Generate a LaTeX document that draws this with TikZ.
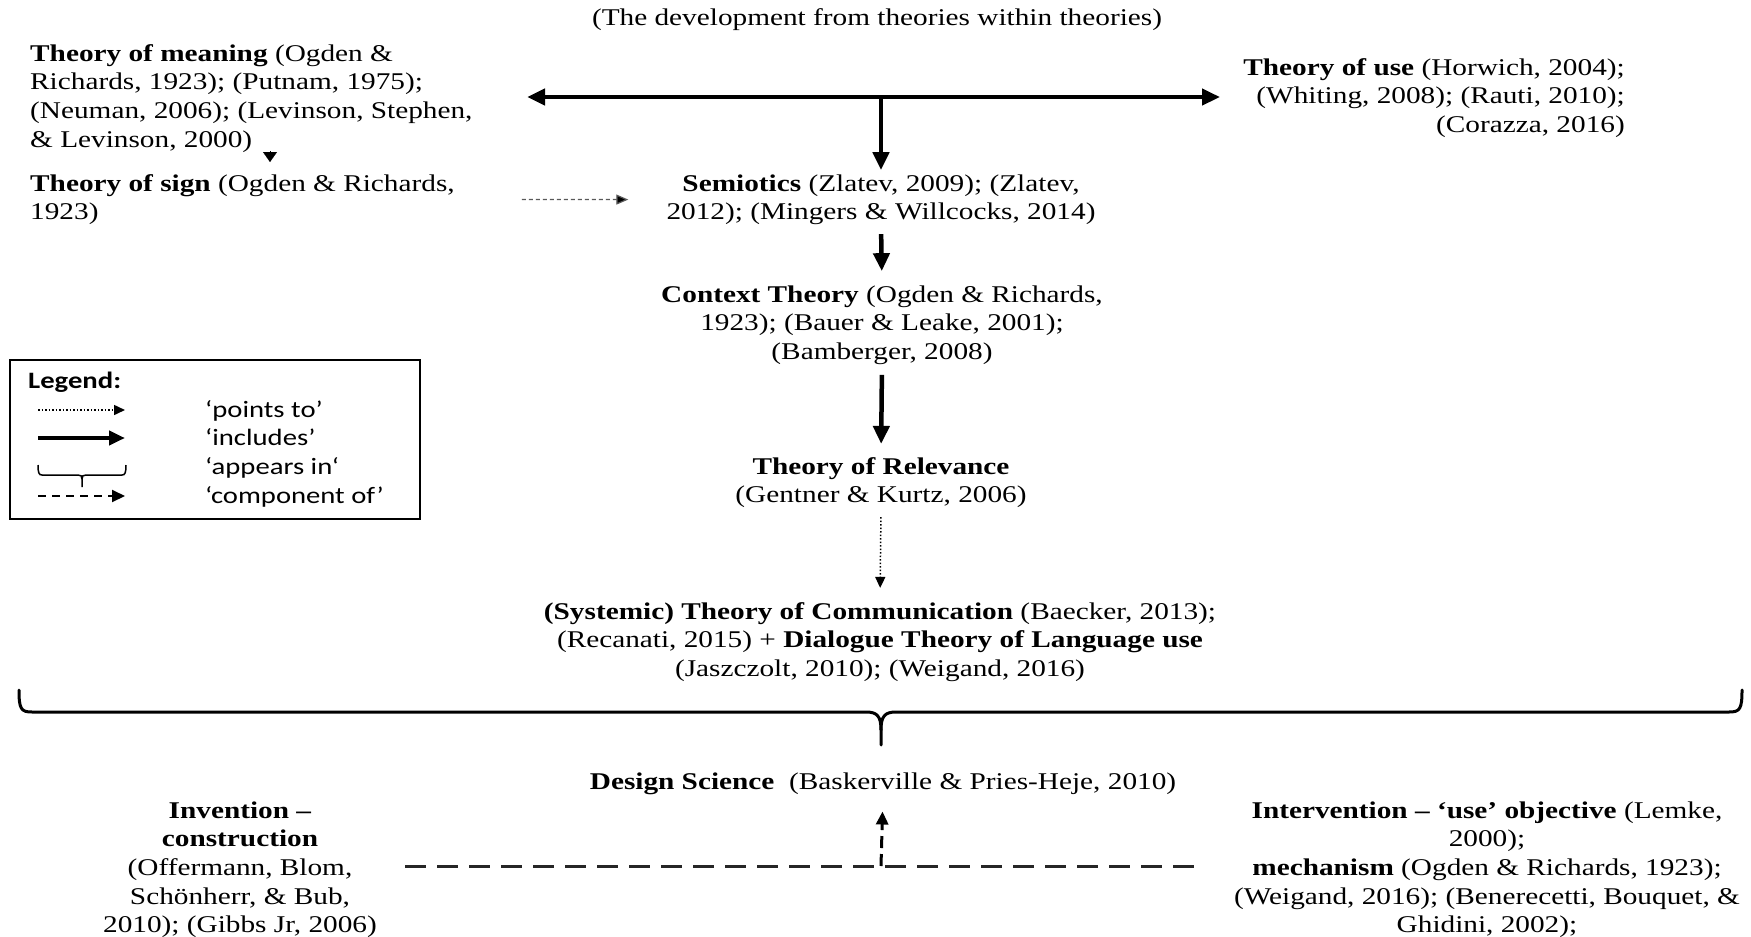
\documentclass[tikz,border=0pt]{standalone}
\usepackage{fontspec}
\setmainfont[FakeStretch=1.22]{Liberation Serif}
\newfontfamily\legendfont[FakeStretch=1.22]{Carlito}
\usetikzlibrary{arrows.meta}

\begin{document}
\begin{tikzpicture}[x=1pt,y=-1pt,
  txt/.style={inner sep=0pt, font=\fontsize{24}{28.7}\selectfont},
  leg/.style={inner sep=0pt, font=\legendfont\fontsize{23.5}{28.7}\selectfont},
  includes/.style={line width=4.5pt, -{Triangle[length=18pt,width=16pt]}},
  includesboth/.style={line width=4.5pt, {Triangle[length=18pt,width=16pt]}-{Triangle[length=18pt,width=16pt]}},
  pointsto/.style={line width=1.5pt, dash pattern=on 1.5pt off 2pt, -{Triangle[length=11pt,width=10pt]}},
  signlink/.style={line width=1.2pt, draw=black!65, dash pattern=on 4pt off 3pt, -{Triangle[length=12pt,width=10pt,fill=black]}},
  componentof/.style={line width=3pt, draw=black!85, dash pattern=on 21pt off 11pt},
  componentarrow/.style={line width=3pt, dash pattern=on 12pt off 6pt, -{Triangle[length=13pt,width=12pt]}},
  bracepath/.style={line width=3pt, line cap=round},
]
\useasboundingbox (0,0) rectangle (1751,937);
\fill[white] (0,0) rectangle (1751,937);

% ---------- text blocks (multi-line nodes are placed by their last baseline) ----------
\node[txt, anchor=base] (title) at (877,25) {(The development from theories within theories)};

\node[txt, anchor=base west, align=left] (meaning) at (30,147.1)
  {\textbf{Theory of meaning} (Ogden \&\\Richards, 1923); (Putnam, 1975);\\(Neuman, 2006); (Levinson, Stephen,\\\& Levinson, 2000)};

\node[txt, anchor=base east, align=right] (use) at (1625,132.4)
  {\textbf{Theory of use} (Horwich, 2004);\\(Whiting, 2008); (Rauti, 2010);\\(Corazza, 2016)};

\node[txt, anchor=base west, align=left] (sign) at (30,219.7)
  {\textbf{Theory of sign} (Ogden \& Richards,\\1923)};

\node[txt, anchor=base, align=center] (semiotics) at (881,219.7)
  {\textbf{Semiotics} (Zlatev, 2009); (Zlatev,\\2012); (Mingers \& Willcocks, 2014)};

\node[txt, anchor=base, align=center] (context) at (882,359.4)
  {\textbf{Context Theory} (Ogden \& Richards,\\1923); (Bauer \& Leake, 2001);\\(Bamberger, 2008)};

\node[txt, anchor=base, align=center] (relevance) at (881,502.7)
  {\textbf{Theory of Relevance}\\(Gentner \& Kurtz, 2006)};

\node[txt, anchor=base, align=center] (comm) at (880,676.4)
  {\textbf{(Systemic) Theory of Communication} (Baecker, 2013);\\(Recanati, 2015) + \textbf{Dialogue Theory of Language use}\\(Jaszczolt, 2010); (Weigand, 2016)};

\node[txt, anchor=base] (design) at (883,789)
  {\textbf{Design Science}\ \ (Baskerville \& Pries-Heje, 2010)};

\node[txt, anchor=base, align=center] (invention) at (240,932.8)
  {\textbf{Invention –}\\\textbf{construction}\\(Offermann, Blom,\\Schönherr, \& Bub,\\2010); (Gibbs Jr, 2006)};

\node[txt, anchor=base, align=center] (intervention) at (1487,932.8)
  {\textbf{Intervention – ‘use’ objective} (Lemke,\\2000);\\\textbf{mechanism} (Ogden \& Richards, 1923);\\(Weigand, 2016); (Benerecetti, Bouquet, \&\\Ghidini, 2002);};

% ---------- connectors ----------
\coordinate (hl) at (527,97);
\coordinate (hr) at (1220,97);
\coordinate (hm) at (881,97);
\draw[includesboth] (hl) -- (hr);
\draw[includes] (hm) -- ([yshift=4pt]semiotics.north);

% meaning -> sign (tip only)
\coordinate (mtipA) at (270,151);
\coordinate (mtipB) at (270,162);
\draw[line width=0.1pt, -{Triangle[length=10pt,width=14pt]}] (mtipA) -- (mtipB);

\draw[signlink, shorten <=67pt, shorten >=38pt] (sign.east) -- (semiotics.west);

\draw[includes, shorten <=9pt, shorten >=14pt] (semiotics.south) -- (context.north);
\draw[includes, shorten <=10pt, shorten >=13pt] (context.south) -- (relevance.north);
\draw[pointsto, shorten <=9pt, shorten >=14pt] (relevance.south) -- (comm.north);

% brace gathering everything above into Design Science
\draw[bracepath]
  (19,690) .. controls (19,709) and (21,712) .. (32,712)
  -- (866,712) .. controls (877,712) and (881,716) .. (881,730) -- (881,745);
\draw[bracepath]
  (1742,690) .. controls (1742,709) and (1740,712) .. (1729,712)
  -- (896,712) .. controls (885,712) and (881,716) .. (881,730);

% components of Design Science
\coordinate (dl) at (405,866);
\coordinate (dr) at (1195,866);
\coordinate (dm) at (881,866);
\draw[componentof] (dl) -- (dr);
\draw[componentarrow, shorten >=17pt] (dm) -- (design.south);

% ---------- legend ----------
\draw[line width=2.5pt] (10,360) rectangle (420,519);
\node[leg, anchor=base west] (legtitle) at (28,388) {\textbf{Legend:}};
\node[leg, anchor=base west] (l1) at (205,417) {‘points to’};
\node[leg, anchor=base west] (l2) at (205,445) {‘includes’};
\node[leg, anchor=base west] (l3) at (205,474) {‘appears in‘};
\node[leg, anchor=base west] (l4) at (205,503) {‘component of’};

\coordinate (s1a) at (38,410); \coordinate (s1b) at (125,410);
\coordinate (s2a) at (38,438); \coordinate (s2b) at (125,438);
\coordinate (s4a) at (38,496); \coordinate (s4b) at (125,496);
\draw[pointsto] (s1a) -- (s1b);
\draw[line width=4pt, -{Triangle[length=16pt,width=14pt]}] (s2a) -- (s2b);
\draw[line width=1.5pt]
  (38,465) .. controls (38,473) and (39,475) .. (42,475)
  -- (78,475) .. controls (81,475) and (82,476) .. (82,479) -- (82,487);
\draw[line width=1.5pt]
  (126,465) .. controls (126,473) and (125,475) .. (122,475)
  -- (86,475) .. controls (83,475) and (82,476) .. (82,479);
\draw[line width=2pt, dash pattern=on 8pt off 6pt, -{Triangle[length=13pt,width=12pt]}] (s4a) -- (s4b);

\end{tikzpicture}
\end{document}
